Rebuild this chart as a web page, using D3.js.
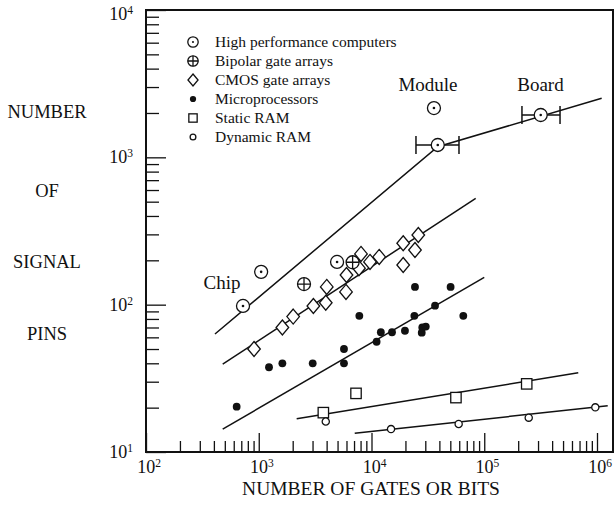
<!DOCTYPE html>
<html>
<head>
<meta charset="utf-8">
<script src="https://cdn.jsdelivr.net/npm/d3@7"></script>
<style>
  body { margin: 0; background: #fff; }
  svg { display: block; }
  text { font-family: "Liberation Serif", "Times New Roman", serif; fill: #111; }
</style>
</head>
<body>
<svg id="chart" width="615" height="506"></svg>
<script>
// Pin counts versus gate / bit counts (log-log), by device family.

const seriesNames = ["High performance computers", "Bipolar gate arrays", "CMOS gate arrays",
                     "Microprocessors", "Static RAM", "Dynamic RAM"];
const seriesKeys = ["hpc", "bipolar", "cmos", "micro", "sram", "dram"];

// High performance computers
const hpcGates = [725, 1050, 4950, 35800, 38700, 316800];
const hpcPins  = [98, 167, 195, 2160, 1213, 1938];
// Module / board ranges (horizontal bars)
const rangeGates = [38700, 316800];
const rangePins  = [1213, 1938];
const rangeLow   = [24800, 216000];
const rangeHigh  = [59700, 470000];

// Bipolar gate arrays
const bipolarGates = [2520, 6800];
const bipolarPins  = [138, 194];

// CMOS gate arrays
const cmosGates = [908, 1620, 2020, 3050, 3930, 4010, 5940, 6000, 7740, 8070, 9700, 11700, 19100, 19100, 24300, 26000];
const cmosPins  = [50, 70, 83, 98, 103, 132, 122, 159, 177, 221, 195, 211, 261, 186, 235, 297];

// Microprocessors
const microGates = [637, 1233, 1620, 3010, 5700, 5700, 7800, 11100, 12100, 15200, 19800, 24000, 24300, 27900, 28200, 30300, 36600, 50300, 65200];
const microPins  = [20.3, 37.6, 40, 40, 50, 40, 84, 56, 65, 65, 66.5, 84, 132, 64.6, 70, 71, 98.4, 132, 84];

// Static RAM
const sramBits = [3740, 7290, 56100, 238000];
const sramPins = [18.5, 25, 23.4, 29];

// Dynamic RAM
const dramBits = [3930, 14900, 59300, 248000, 966000];
const dramPins = [16.1, 14.3, 15.5, 17.1, 20.1];

// Fitted trend lines (vertices)
const hpcTrendX   = [409, 38700, 1.10e6];
const hpcTrendY   = [63.2, 1180, 2520];
const cmosTrendX  = [479, 84000];
const cmosTrendY  = [39.5, 527];
const microTrendX = [479, 100000];
const microTrendY = [14.3, 153];
const sramTrendX  = [2170, 682000];
const sramTrendY  = [16.8, 34.5];
const dramTrendX  = [7100, 1.245e6];
const dramTrendY  = [13.4, 20.6];

// Axis ticks
const xMajor = [1e2, 1e3, 1e4, 1e5, 1e6];
const yMajor = [1e1, 1e2, 1e3, 1e4];
const xExp = ["2", "3", "4", "5", "6"];
const yExp = ["1", "2", "3", "4"];

// Text annotations
const annotations = ["Module", "Board", "Chip"];
const annotationGates = [31700, 315000, 472];
const annotationPins  = [2800, 2800, 128];
const yTitleLines = ["NUMBER", "OF", "SIGNAL", "PINS"];
const xTitle = "NUMBER OF GATES OR BITS";

// ---------------------------------------------------------------
const svg = d3.select("#chart");
const L = 146, R = 613, T = 10, B = 452;

const x = d3.scaleLog().domain([1e2, Math.pow(10, 6 + 16 / 112.75)]).range([L, R]);
const y = d3.scaleLog().domain([1e1, 1e4]).range([B, T]);

const minorX = [];
for (let e = 2; e <= 5; e++) for (let m = 2; m <= 9; m++) minorX.push(m * Math.pow(10, e));
const minorY = [];
for (let e = 1; e <= 3; e++) for (let m = 2; m <= 9; m++) minorY.push(m * Math.pow(10, e));

function tickAxis(axis, transform) {
  const g = svg.append("g").attr("transform", transform).call(axis);
  g.select(".domain").remove();
  g.selectAll(".tick line").attr("stroke", "#111").attr("stroke-width", 1.3);
  g.selectAll(".tick text").remove();
  return g;
}
tickAxis(d3.axisBottom(x).tickValues(minorX).tickSize(-11).tickSizeOuter(0), `translate(0,${B})`);
tickAxis(d3.axisBottom(x).tickValues(xMajor).tickSize(-19).tickSizeOuter(0), `translate(0,${B})`);
tickAxis(d3.axisLeft(y).tickValues(minorY).tickSize(-13).tickSizeOuter(0), `translate(${L},0)`);
tickAxis(d3.axisLeft(y).tickValues(yMajor).tickSize(-20).tickSizeOuter(0), `translate(${L},0)`);

// plot frame
svg.append("rect").attr("x", L).attr("y", T).attr("width", R - L).attr("height", B - T)
  .attr("fill", "none").attr("stroke", "#111").attr("stroke-width", 2);

// tick labels: 10^n
function power(g, exp) {
  g.append("tspan").text("10");
  g.append("tspan").attr("dy", -6).attr("font-size", 11.5).text(exp);
}
xMajor.forEach((v, i) => {
  const t = svg.append("text").attr("x", x(v) + 3).attr("y", 473)
    .attr("text-anchor", "middle").attr("font-size", 18);
  power(t, xExp[i]);
});
yMajor.forEach((v, i) => {
  const t = svg.append("text").attr("x", 133).attr("y", Math.max(y(v) + 6, 20))
    .attr("text-anchor", "end").attr("font-size", 18);
  power(t, yExp[i]);
});

// axis titles
svg.append("text").attr("x", 371).attr("y", 495).attr("text-anchor", "middle")
  .attr("font-size", 19.5).text(xTitle);
const yTitleY = [118, 197, 268, 340];
yTitleLines.forEach((s, i) => {
  svg.append("text").attr("x", 47).attr("y", yTitleY[i]).attr("text-anchor", "middle")
    .attr("font-size", 18.5).text(s);
});

// trend lines
const line = d3.line().x(d => x(d[0])).y(d => y(d[1]));
[[hpcTrendX, hpcTrendY], [cmosTrendX, cmosTrendY], [microTrendX, microTrendY],
 [sramTrendX, sramTrendY], [dramTrendX, dramTrendY]].forEach(([xs, ys]) => {
  svg.append("path").datum(d3.zip(xs, ys)).attr("d", line)
    .attr("fill", "none").attr("stroke", "#111").attr("stroke-width", 1.5);
});

// range bars for module / board
const bars = svg.append("g").attr("stroke", "#111").attr("stroke-width", 1.5);
rangeGates.forEach((g, i) => {
  const cy = y(rangePins[i]);
  bars.append("line").attr("x1", x(rangeLow[i])).attr("x2", x(rangeHigh[i])).attr("y1", cy).attr("y2", cy);
  [rangeLow[i], rangeHigh[i]].forEach(v => {
    bars.append("line").attr("x1", x(v)).attr("x2", x(v)).attr("y1", cy - 9).attr("y2", cy + 9);
  });
});

// markers
function marker(g, key, s) {
  const sw = 1.3;
  if (key === "hpc") {
    g.append("circle").attr("r", 6.5 * s).attr("fill", "#fff").attr("stroke", "#111").attr("stroke-width", sw);
    g.append("circle").attr("r", 1.3 * s).attr("fill", "#111");
  } else if (key === "bipolar") {
    const r = 6.5 * s;
    g.append("circle").attr("r", r).attr("fill", "#fff").attr("stroke", "#111").attr("stroke-width", sw);
    g.append("path").attr("d", `M${-r},0H${r}M0,${-r}V${r}`).attr("stroke", "#111").attr("stroke-width", sw);
  } else if (key === "cmos") {
    const w = 6.3 * s, h = 7.5 * s;
    g.append("path").attr("d", `M0,${-h}L${w},0L0,${h}L${-w},0Z`)
      .attr("fill", "#fff").attr("stroke", "#111").attr("stroke-width", sw);
  } else if (key === "micro") {
    g.append("circle").attr("r", 3.9 * s).attr("fill", "#111");
  } else if (key === "sram") {
    const a = 5.2 * s;
    g.append("rect").attr("x", -a).attr("y", -a).attr("width", 2 * a).attr("height", 2 * a)
      .attr("fill", "#fff").attr("stroke", "#111").attr("stroke-width", sw);
  } else if (key === "dram") {
    g.append("circle").attr("r", 3.6 * s).attr("fill", "#fff").attr("stroke", "#111").attr("stroke-width", sw);
  }
}
function plotSeries(key, xs, ys) {
  svg.append("g").selectAll("g").data(d3.zip(xs, ys)).join("g")
    .attr("transform", d => `translate(${x(d[0])},${y(d[1])})`)
    .each(function () { marker(d3.select(this), key, 1); });
}
plotSeries("cmos", cmosGates, cmosPins);
plotSeries("micro", microGates, microPins);
plotSeries("sram", sramBits, sramPins);
plotSeries("dram", dramBits, dramPins);
plotSeries("bipolar", bipolarGates, bipolarPins);
plotSeries("hpc", hpcGates, hpcPins);

// annotations
annotations.forEach((s, i) => {
  svg.append("text").attr("x", x(annotationGates[i]))
    .attr("y", y(annotationPins[i])).attr("text-anchor", "middle").attr("font-size", 19).text(s);
});

// legend
const legendY = [42, 61, 80, 99, 118, 137];
seriesKeys.forEach((k, i) => {
  const g = svg.append("g").attr("transform", `translate(193,${legendY[i]})`);
  marker(g, k, 0.8);
  svg.append("text").attr("x", 215).attr("y", legendY[i] + 5).attr("font-size", 15.5).text(seriesNames[i]);
});
</script>
</body>
</html>
